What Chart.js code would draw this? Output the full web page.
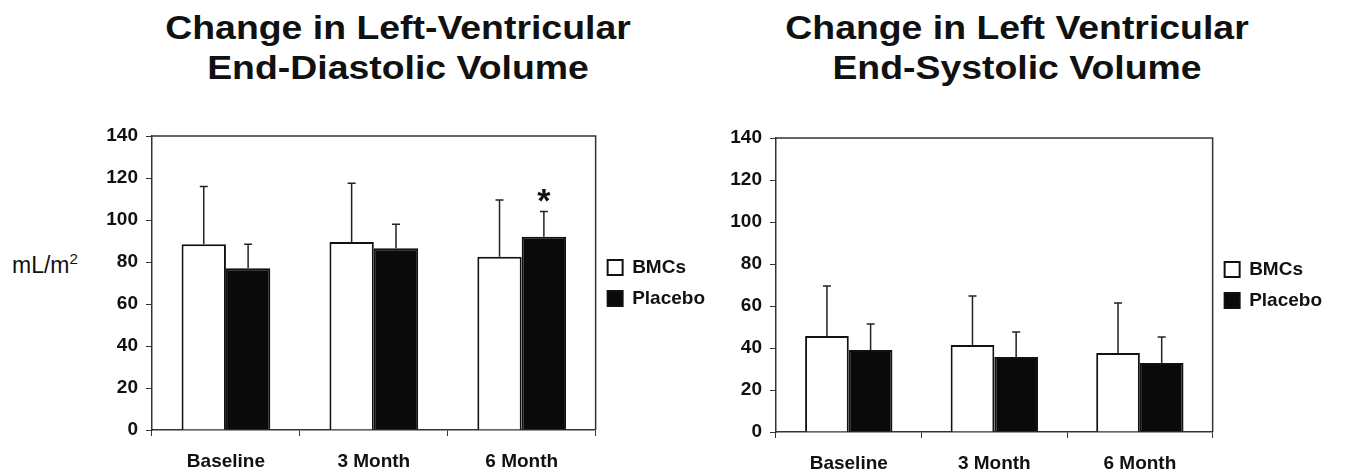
<!DOCTYPE html>
<html>
<head>
<meta charset="utf-8">
<script src="https://cdn.jsdelivr.net/npm/chart.js@4.4.1/dist/chart.umd.min.js"></script>
<style>
    body { margin: 0; width: 1347px; height: 476px; background: #fff; position: relative; overflow: hidden; font-family: Arial, "Liberation Sans", sans-serif; color: #111; }
    .title { position: absolute; top: 7px; width: 600px; text-align: center; font-weight: bold; font-size: 34px; line-height: 40px; transform: scaleX(1.1); }
    .unit { position: absolute; left: 12px; top: 250px; font-size: 23px; }
    .unit sup { font-size: 15px; }
    canvas { position: absolute; top: 0; }
</style>
</head>
<body>
<div class="title" style="left: 98px;">Change in Left-Ventricular<br>End-Diastolic Volume</div>
<div class="title" style="left: 717px;">Change in Left Ventricular<br>End-Systolic Volume</div>
<div class="unit">mL/m<sup>2</sup></div>
<canvas id="edvChart" width="727" height="476" style="left: 0;"></canvas>
<canvas id="esvChart" width="620" height="476" style="left: 727px;"></canvas>

<script>
// Values (mean and upward SD)
const categories = ['Baseline', '3 Month', '6 Month'];
const yMax = 140;
const yStep = 20;

const edvBmc = [88.5, 89.5, 82.5];
const edvBmcSd = [27.5, 28, 27];
const edvPlacebo = [77, 86.5, 92];
const edvPlaceboSd = [11.5, 11.5, 12];
const edvPlaceboMarks = ['', '', '*'];

const esvBmc = [45.7, 41.4, 37.6];
const esvBmcSd = [23.8, 23.4, 23.8];
const esvPlacebo = [39, 35.7, 32.9];
const esvPlaceboSd = [12.4, 11.9, 12.3];

const ink = '#111111';
const axisColor = '#333333';
const tickFont = { family: 'Arial, "Liberation Sans", sans-serif', size: 19, weight: 'bold' };

// Error bars (upward only) + significance marks
const errorBarPlugin = {
    id: 'errorBars',
    afterDatasetsDraw(chart) {
        const ctx = chart.ctx;
        const yScale = chart.scales.y;
        chart.data.datasets.forEach((ds, i) => {
            const meta = chart.getDatasetMeta(i);
            meta.data.forEach((bar, j) => {
                const sd = ds.errorBars ? ds.errorBars[j] : 0;
                const top = yScale.getPixelForValue(ds.data[j] + sd);
                ctx.save();
                ctx.strokeStyle = '#222';
                ctx.lineWidth = 1.5;
                ctx.beginPath();
                ctx.moveTo(bar.x, bar.y);
                ctx.lineTo(bar.x, top);
                ctx.moveTo(bar.x - 4, top);
                ctx.lineTo(bar.x + 4, top);
                ctx.stroke();
                if (ds.marks && ds.marks[j]) {
                    ctx.fillStyle = ink;
                    ctx.font = 'bold 34px Arial, "Liberation Sans", sans-serif';
                    ctx.textAlign = 'center';
                    ctx.textBaseline = 'alphabetic';
                    ctx.fillText(ds.marks[j], bar.x, top);
                }
                ctx.restore();
            });
        });
    }
};

// Closed frame round the plot area
const framePlugin = {
    id: 'frame',
    afterDraw(chart) {
        const { ctx, chartArea } = chart;
        ctx.save();
        ctx.strokeStyle = axisColor;
        ctx.lineWidth = 1.5;
        ctx.beginPath();
        ctx.moveTo(chartArea.left, chartArea.top);
        ctx.lineTo(chartArea.right, chartArea.top);
        ctx.lineTo(chartArea.right, chartArea.bottom);
        ctx.stroke();
        ctx.restore();
    }
};

function makeChart(canvasId, bmc, bmcSd, placebo, placeboSd, marks, layout) {
    const ctx = document.getElementById(canvasId).getContext('2d');
    return new Chart(ctx, {
        type: 'bar',
        data: {
            labels: categories,
            datasets: [
                {
                    label: 'BMCs',
                    data: bmc,
                    errorBars: bmcSd,
                    backgroundColor: '#ffffff',
                    borderColor: ink,
                    borderWidth: 2,
                    categoryPercentage: 0.6,
                    barPercentage: 1.0
                },
                {
                    label: 'Placebo',
                    data: placebo,
                    errorBars: placeboSd,
                    marks: marks,
                    backgroundColor: '#0a0a0a',
                    borderColor: ink,
                    borderWidth: 2,
                    categoryPercentage: 0.6,
                    barPercentage: 1.0
                }
            ]
        },
        options: {
            responsive: false,
            animation: false,
            layout: {
                padding: { top: layout.top, left: layout.left, right: layout.right, bottom: 0 }
            },
            plugins: {
                title: { display: false },
                tooltip: { enabled: false },
                legend: {
                    position: 'right',
                    fullSize: false,
                    labels: {
                        color: ink,
                        font: tickFont,
                        boxWidth: 15,
                        boxHeight: 15,
                        padding: 12
                    }
                }
            },
            scales: {
                x: {
                    grid: {
                        display: true,
                        drawOnChartArea: false,
                        drawTicks: true,
                        tickLength: 6,
                        color: axisColor
                    },
                    border: { color: axisColor, width: 1.5 },
                    ticks: { color: ink, font: tickFont, padding: 14, maxRotation: 0 },
                    afterFit: (scale) => { scale.height = layout.xHeight; }
                },
                y: {
                    min: 0,
                    max: yMax,
                    grid: {
                        display: true,
                        drawOnChartArea: false,
                        drawTicks: true,
                        tickLength: 6,
                        color: axisColor
                    },
                    border: { color: axisColor, width: 1.5 },
                    ticks: { stepSize: yStep, color: ink, font: tickFont, padding: 8 },
                    afterFit: (scale) => { scale.width = layout.yWidth; }
                }
            }
        },
        plugins: [errorBarPlugin, framePlugin]
    });
}

makeChart('edvChart', edvBmc, edvBmcSd, edvPlacebo, edvPlaceboSd, edvPlaceboMarks,
    { top: 136, left: 100, right: 12, yWidth: 52, xHeight: 46 });
makeChart('esvChart', esvBmc, esvBmcSd, esvPlacebo, esvPlaceboSd, null,
    { top: 138, left: 0, right: 15, yWidth: 49, xHeight: 44 });
</script>
</body>
</html>
